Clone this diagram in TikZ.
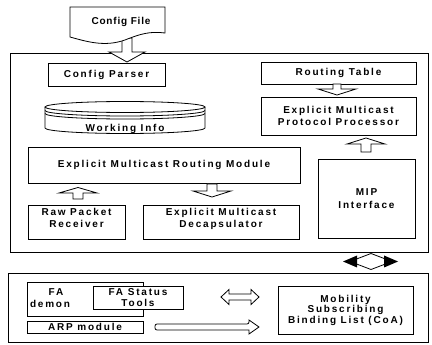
\documentclass[tikz,border=0pt]{standalone}
\usepackage{fontspec}
\setmainfont[LetterSpace=18]{Liberation Sans}
\newfontfamily\cfgfont[LetterSpace=8]{Liberation Sans}
\begin{document}
\begin{tikzpicture}[x=1pt,y=-1pt]
\tikzset{
  lw/.style={line width=0.8pt, draw=black},
  box/.style={lw, fill=white, align=center, inner sep=0pt,
    font=\bfseries\fontsize{10}{12.5}\selectfont},
  txt/.style={align=center, inner sep=0pt,
    font=\bfseries\fontsize{10}{12.5}\selectfont},
  blk/.style={lw, fill=white, line join=miter},
}
\useasboundingbox (0,0) rectangle (432,345);
% outer frames
\node[box, minimum width=418pt, minimum height=199pt] (outer) at (219,152.5) {};
\node[box, minimum width=420pt, minimum height=69pt] (lower) at (218,307.5) {};
% config file arrow
\draw[blk] (122,38) -- (132,38) -- (132,52) -- (145,52) -- (127,62) -- (109,52) -- (122,52) -- cycle;
% config file document
\draw[lw, fill=white] (70,7) -- (165,7) -- (165,33)
  .. controls (150,31) and (140,34) .. (125,40)
  .. controls (105,47) and (88,42) .. (70,37) -- cycle;
\node[txt, font=\cfgfont\bfseries\fontsize{10}{12.5}\selectfont] (cfg) at (121,22) {Config File};
% left column
\node[box, minimum width=117pt, minimum height=23pt] (parser) at (106.5,74.5) {Config Parser};
% working info cylinder
\draw[lw, fill=white] (45,107) -- (45,128) arc[start angle=180, end angle=0, x radius=80, y radius=5.5] -- (205,107);
\draw[lw] (125,107) ellipse [x radius=80, y radius=5.5];
\draw[lw] (45,110.5) arc[start angle=180, end angle=0, x radius=80, y radius=5.5];
\draw[lw] (45,113.5) arc[start angle=180, end angle=0, x radius=80, y radius=5.5];
\node[txt] (winfo) at (125,128.5) {Working Info};
\node[box, minimum width=272pt, minimum height=36pt] (emrm) at (164,165) {Explicit Multicast Routing Module};
\node[box, minimum width=97pt, minimum height=34pt] (raw) at (76.5,222) {Raw Packet\\Receiver\\[-4pt]\mbox{}};
\node[box, minimum width=156pt, minimum height=34pt] (decap) at (221,222) {Explicit Multicast\\Decapsulator\\[-4pt]\mbox{}};
% right column
\node[box, minimum width=155pt, minimum height=22pt] (rtable) at (338.5,73) {Routing Table};
\node[box, minimum width=155pt, minimum height=38pt] (empp) at (338.5,116) {Explicit Multicast\\Protocol Processor};
\node[box, minimum width=97pt, minimum height=79pt] (mip) at (366.5,198.5) {MIP\\Interface};
% block arrows upper frame
\draw[blk] (333,84) -- (341,84) -- (341,89) -- (356,89) -- (337,95) -- (318,89) -- (333,89) -- cycle;
\draw[blk] (361,152) -- (371,152) -- (371,144) -- (385,144) -- (366,138) -- (347,144) -- (361,144) -- cycle;
\draw[blk] (73,199) -- (83,199) -- (83,193) -- (97,193) -- (78,187.5) -- (59,193) -- (73,193) -- cycle;
\draw[blk] (207,184) -- (217,184) -- (217,191) -- (231,191) -- (212,197) -- (193,191) -- (207,191) -- cycle;
% black double arrow between frames
\draw[lw] (350,261.5) -- (371,253.5) -- (392,261.5) -- (371,269.5) -- cycle;
\fill (343,261.5) -- (357,255.5) -- (357,267.5) -- cycle;
\fill (398,261.5) -- (384,255.5) -- (384,267.5) -- cycle;
% lower frame
\node[box, minimum width=116pt, minimum height=34pt] (fad) at (85,299) {};
\node[txt] (fadtxt) at (50,298) {\hspace*{12pt}FA\\demon};
\node[box, minimum width=90pt, minimum height=23pt] (fast) at (138,297.5) {FA Status\\[-2pt]Tools};
\node[box, minimum width=116pt, minimum height=12pt] (arp) at (85,327) {ARP module};
\node[box, minimum width=135pt, minimum height=48pt] (mob) at (345.5,310) {Mobility\\[-2pt]Subscribing\\[-2pt]Binding List (CoA)};
\draw[blk] (221,297) -- (229,289.5) -- (229,294) -- (251,294) -- (251,289.5) -- (259,297) -- (251,304.5) -- (251,300) -- (229,300) -- (229,304.5) -- cycle;
\draw[blk, rounded corners=2pt] (155,324) -- (249,324) [sharp corners] -- (249,320) -- (259,327) -- (249,334) -- (249,330) [rounded corners=2pt] -- (155,330) -- cycle;
\end{tikzpicture}
\end{document}
